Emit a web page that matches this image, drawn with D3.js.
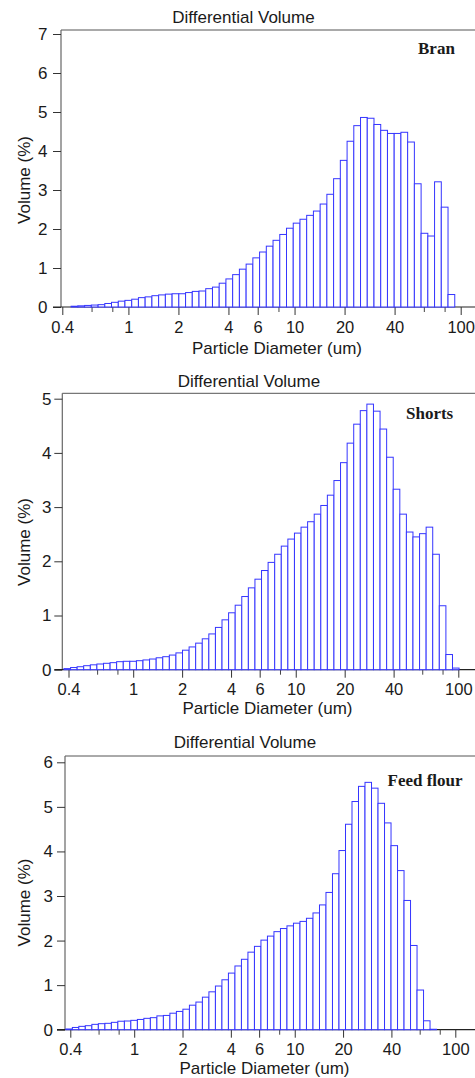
<!DOCTYPE html>
<html>
<head>
<meta charset="utf-8">
<script src="https://cdn.jsdelivr.net/npm/d3@7"></script>
<style>
  html, body { margin: 0; padding: 0; background: #fff; }
  svg { display: block; }
  text { font-family: "Liberation Sans", Arial, sans-serif; fill: #1a1a1a; }
</style>
</head>
<body>
<svg id="chart" width="475" height="1078"></svg>
<script>
// ---- Data ----
// Lower edges of the analyser size channels (um); last entry is the upper edge of the final channel
const binEdges = [0.375, 0.412, 0.452, 0.496, 0.545, 0.598, 0.657, 0.721, 0.791, 0.869,
  0.953, 1.047, 1.149, 1.261, 1.385, 1.520, 1.669, 1.832, 2.011, 2.208,
  2.423, 2.660, 2.920, 3.206, 3.519, 3.863, 4.241, 4.656, 5.111, 5.611,
  6.159, 6.761, 7.422, 8.148, 8.944, 9.819, 10.78, 11.83, 12.99, 14.26,
  15.65, 17.18, 18.86, 20.71, 22.73, 24.95, 27.39, 30.07, 33.01, 36.24,
  39.78, 43.67, 47.94, 52.62, 57.77, 63.41, 69.61, 76.42, 83.89, 92.09, 101.1];

// Differential volume (%) per channel
const branValues = [null, null, 0.02, 0.03, 0.04, 0.05, 0.06, 0.09, 0.12, 0.15,
  0.17, 0.20, 0.24, 0.26, 0.29, 0.31, 0.33, 0.34, 0.34, 0.37,
  0.40, 0.41, 0.47, 0.51, 0.61, 0.72, 0.83, 0.97, 1.10, 1.26,
  1.41, 1.56, 1.71, 1.86, 2.02, 2.15, 2.25, 2.35, 2.46, 2.64,
  2.89, 3.29, 3.76, 4.25, 4.65, 4.86, 4.84, 4.68, 4.53, 4.45,
  4.45, 4.48, 4.23, 3.16, 1.89, 1.82, 3.21, 2.56, 0.32, null];

const shortsValues = [0.02, 0.04, 0.055, 0.074, 0.09, 0.105, 0.118, 0.13, 0.148, 0.155,
  0.155, 0.166, 0.18, 0.197, 0.22, 0.24, 0.27, 0.31, 0.36, 0.42,
  0.49, 0.57, 0.66, 0.78, 0.92, 1.05, 1.19, 1.35, 1.51, 1.67,
  1.83, 1.98, 2.13, 2.28, 2.41, 2.52, 2.63, 2.73, 2.87, 3.03,
  3.22, 3.49, 3.82, 4.18, 4.53, 4.78, 4.90, 4.77, 4.44, 3.92,
  3.33, 2.87, 2.54, 2.45, 2.51, 2.63, 2.13, 1.18, 0.28, 0.03];

const feedFlourValues = [0.016, 0.05, 0.075, 0.09, 0.12, 0.135, 0.143, 0.165, 0.19, 0.195,
  0.21, 0.23, 0.255, 0.27, 0.31, 0.32, 0.37, 0.41, 0.46, 0.55,
  0.62, 0.73, 0.85, 0.98, 1.12, 1.27, 1.43, 1.58, 1.74, 1.87,
  2.01, 2.10, 2.20, 2.27, 2.33, 2.39, 2.43, 2.50, 2.62, 2.80,
  3.08, 3.50, 4.02, 4.61, 5.12, 5.46, 5.55, 5.42, 5.08, 4.64,
  4.13, 3.57, 2.90, 1.89, 0.89, 0.20, 0.01, null, null, null];

const xTickLabels = [0.4, 1, 2, 4, 6, 10, 20, 40, 100];
const xMinorTicks = [0.6, 0.8, 8, 60, 80];
const branYTicks = [0, 1, 2, 3, 4, 5, 6, 7];
const shortsYTicks = [0, 1, 2, 3, 4, 5];
const feedFlourYTicks = [0, 1, 2, 3, 4, 5, 6];

const chartTitle = "Differential Volume";
const xTitle = "Particle Diameter (um)";
const yTitle = "Volume (%)";
const sampleNames = ["Bran", "Shorts", "Feed flour"];

// ---- Layout (per panel) ----
const panels = [
  { name: sampleNames[0], values: branValues, yTicks: branYTicks, yMax: 7,
    axisX: 61, frameTop: 30, y0: 307, yTop: 34, x04: 62.3, x100: 460.7,
    labelEnd: 47.5, titleX: 243.5, titleY: 23.3, xTitleX: 277, xTitleY: 353.5,
    yTitleY: 180, nameX: 418, nameY: 54 },
  { name: sampleNames[1], values: shortsValues, yTicks: shortsYTicks, yMax: 5,
    axisX: 62.3, frameTop: 393.3, y0: 669.7, yTop: 398.7, x04: 68.5, x100: 458.3,
    labelEnd: 51.5, titleX: 249, titleY: 386.7, xTitleX: 267.5, xTitleY: 714.3,
    yTitleY: 542, nameX: 406, nameY: 419 },
  { name: sampleNames[2], values: feedFlourValues, yTicks: feedFlourYTicks, yMax: 6,
    axisX: 65, frameTop: 756, y0: 1029.7, yTop: 762.3, x04: 70.3, x100: 455.3,
    labelEnd: 53, titleX: 245, titleY: 748.3, xTitleX: 264.5, xTitleY: 1074,
    yTitleY: 902.5, nameX: 387.5, nameY: 785.5 }
];

const W = 475;
const svg = d3.select("#chart");

panels.forEach(p => {
  const g = svg.append("g");
  const x = d3.scaleLog().domain([0.4, 100]).range([p.x04, p.x100]);
  const y = d3.scaleLinear().domain([0, p.yMax]).range([p.y0, p.yTop]);

  // frame: top line and left axis line
  g.append("line").attr("x1", p.axisX).attr("x2", W).attr("y1", p.frameTop).attr("y2", p.frameTop)
    .attr("stroke", "#555").attr("stroke-width", 1);
  g.append("line").attr("x1", p.axisX).attr("x2", p.axisX).attr("y1", p.frameTop).attr("y2", p.y0)
    .attr("stroke", "#666").attr("stroke-width", 1.2);

  // y axis
  const yAxis = d3.axisLeft(y).tickValues(p.yTicks).tickFormat(d3.format("d"))
    .tickSize(8).tickPadding(p.axisX - 8 - p.labelEnd);
  const ya = g.append("g").attr("transform", `translate(${p.axisX},0)`).call(yAxis);
  ya.select(".domain").remove();
  ya.selectAll(".tick line").attr("stroke", "#333");
  ya.selectAll(".tick text").attr("font-size", 17).attr("fill", "#1a1a1a")
    .style("font-family", '"Liberation Sans", Arial, sans-serif');

  // bottom axis line
  g.append("line").attr("x1", p.axisX - 8).attr("x2", W).attr("y1", p.y0).attr("y2", p.y0)
    .attr("stroke", "#222").attr("stroke-width", 1.2);

  // x axis (labelled ticks)
  const xAxis = d3.axisBottom(x).tickValues(xTickLabels).tickFormat(d => String(d))
    .tickSize(8).tickPadding(5.8);
  const xa = g.append("g").attr("transform", `translate(0,${p.y0})`).call(xAxis);
  xa.select(".domain").remove();
  xa.selectAll(".tick line").attr("stroke", "#333");
  xa.selectAll(".tick text").attr("font-size", 16.5).attr("fill", "#1a1a1a")
    .style("font-family", '"Liberation Sans", Arial, sans-serif');

  // x axis minor ticks
  const xMinor = d3.axisBottom(x).tickValues(xMinorTicks).tickFormat("").tickSize(5);
  const xm = g.append("g").attr("transform", `translate(0,${p.y0})`).call(xMinor);
  xm.select(".domain").remove();
  xm.selectAll(".tick line").attr("stroke", "#444");

  // bars
  const bars = p.values.map((v, i) => ({ lo: binEdges[i], hi: binEdges[i + 1], v }))
    .filter(d => d.v !== null);
  g.append("g").selectAll("rect").data(bars).join("rect")
    .attr("x", d => x(d.lo))
    .attr("width", d => x(d.hi) - x(d.lo))
    .attr("y", d => y(d.v))
    .attr("height", d => y(0) - y(d.v))
    .attr("fill", "#fff")
    .attr("stroke", "#3535ff")
    .attr("stroke-width", 1);

  // titles
  g.append("text").attr("x", p.titleX).attr("y", p.titleY).attr("text-anchor", "middle")
    .attr("font-size", 17).text(chartTitle);
  g.append("text").attr("x", p.xTitleX).attr("y", p.xTitleY).attr("text-anchor", "middle")
    .attr("font-size", 17).text(xTitle);
  g.append("text").attr("transform", `translate(30,${p.yTitleY}) rotate(-90)`)
    .attr("text-anchor", "middle").attr("font-size", 17).text(yTitle);
  g.append("text").attr("x", p.nameX).attr("y", p.nameY)
    .attr("font-size", 17).attr("font-weight", "bold")
    .style("font-family", '"Liberation Serif", "Times New Roman", serif')
    .text(p.name);
});
</script>
</body>
</html>
